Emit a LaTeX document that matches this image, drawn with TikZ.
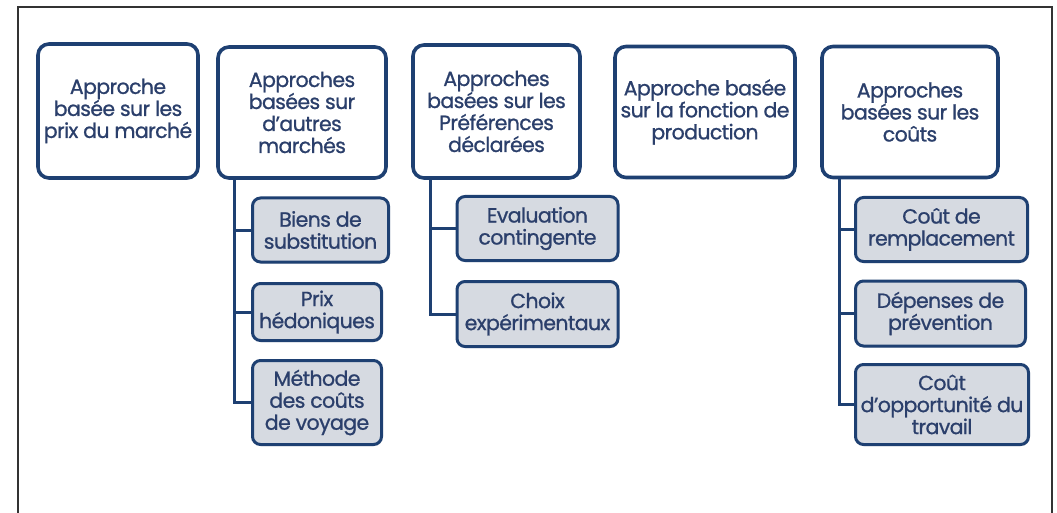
\documentclass[tikz,border=0pt]{standalone}
\usepackage{fontspec}
\setmainfont{Poppins}[FakeBold=0.9, LetterSpace=-3]
\usetikzlibrary{shadows}
\definecolor{navy}{HTML}{1E4072}
\definecolor{childfill}{HTML}{D6DAE1}
\definecolor{txt}{HTML}{2B3F6B}
\definecolor{frame}{HTML}{333333}
\tikzset{
  topbox/.style={draw=navy, line width=3.6pt, rounded corners=11pt, fill=white,
    align=center, text=txt, inner sep=0pt,
    font=\fontsize{20.5}{22}\selectfont,
    drop shadow={opacity=0.25, shadow xshift=1pt, shadow yshift=-1.5pt}},
  childbox/.style={draw=navy, line width=3pt, rounded corners=8pt, fill=childfill,
    align=center, text=txt, inner sep=0pt,
    font=\fontsize{20.5}{22}\selectfont,
    drop shadow={opacity=0.25, shadow xshift=1pt, shadow yshift=-1.5pt}},
  conn/.style={draw=navy, line width=3pt},
}
\begin{document}
\begin{tikzpicture}[x=1pt,y=-1pt]
\useasboundingbox (0,0) rectangle (1057,513);
\draw[frame, line width=1.2pt] (18,513) -- (18,7) -- (1052,7) -- (1052,513);

% top boxes
\node[topbox, minimum width=160pt, minimum height=134pt] (m1) at (118,111) {Approche\\basée sur les\\prix du marché};
\node[topbox, minimum width=168pt, minimum height=131pt] (m2) at (302,112.5) {Approches\\basées sur\\d'autres\\marchés};
\node[topbox, minimum width=167pt, minimum height=133pt] (m3) at (496.5,111.5) {Approches\\basées sur les\\Préférences\\déclarées};
\node[topbox, minimum width=180pt, minimum height=131pt] (m4) at (705,112) {Approche basée\\sur la fonction de\\production};
\node[topbox, minimum width=176pt, minimum height=131pt] (m5) at (910,112) {Approches\\basées sur les\\coûts};

% children of m2
\node[childbox, minimum width=136pt, minimum height=64pt] (c21) at (320.5,230) {Biens de\\substitution};
\node[childbox, minimum width=129pt, minimum height=57pt] (c22) at (317,312) {Prix\\hédoniques};
\node[childbox, minimum width=129pt, minimum height=84pt] (c23) at (317,402.5) {Méthode\\des coûts\\de voyage};

% children of m3
\node[childbox, minimum width=161pt, minimum height=64pt] (c31) at (537.5,228.5) {Evaluation\\contingente};
\node[childbox, minimum width=161pt, minimum height=65pt] (c32) at (537.5,314) {Choix\\expérimentaux};

% children of m5
\node[childbox, minimum width=172pt, minimum height=64pt] (c51) at (941.5,229.5) {Coût de\\remplacement};
\node[childbox, minimum width=170pt, minimum height=65pt] (c52) at (940.5,313.5) {Dépenses de\\prévention};
\node[childbox, minimum width=173pt, minimum height=80pt] (c53) at (942,404.5) {Coût\\d'opportunité du\\travail};

% connectors
\draw[conn] ([xshift=18pt]m2.south west) |- (c21.west);
\draw[conn] ([xshift=18pt]m2.south west) |- (c22.west);
\draw[conn] ([xshift=18pt]m2.south west) |- (c23.west);
\draw[conn] ([xshift=19pt]m3.south west) |- (c31.west);
\draw[conn] ([xshift=19pt]m3.south west) |- (c32.west);
\draw[conn] ([xshift=19pt]m5.south west) |- (c51.west);
\draw[conn] ([xshift=19pt]m5.south west) |- (c52.west);
\draw[conn] ([xshift=19pt]m5.south west) |- (c53.west);
\end{tikzpicture}
\end{document}
